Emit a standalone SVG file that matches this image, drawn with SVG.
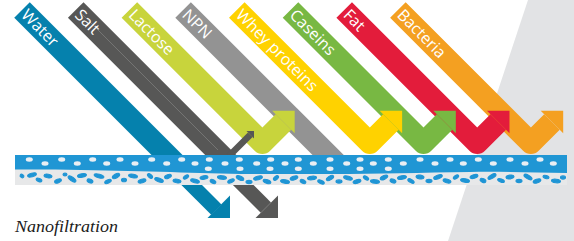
<svg xmlns="http://www.w3.org/2000/svg" width="574" height="241" viewBox="0 0 574 241">
<style>
.shaft{fill:none;stroke-linecap:butt;stroke-linejoin:round}
.lbl{font-family:"Open Sans","DejaVu Sans",sans-serif;font-size:16px;fill:#ffffff}
.dot{fill:#e9eef3}
.blob{fill:#1f95d5;stroke:#1f95d5;stroke-width:1.1}
</style>
<rect width="574" height="241" fill="#ffffff"/>
<polygon points="528,0 574,0 574,241 448,241" fill="#e2e3e5"/>

<g id="connectors">
<g id="bacteria">
<path class="shaft" d="M397.9,10 L530.9,143 L551.95,121.95" stroke="#f4a021" stroke-width="22"/>
<polygon points="563.2,110.7 540.7,110.7 563.2,133.2" fill="#f4a021"/>
<text class="lbl" transform="translate(397.9,10) rotate(45)" x="3" y="5.5">Bacteria</text>
</g>
<g id="fat">
<path class="shaft" d="M344.2,10 L477.2,143 L498.25,121.95" stroke="#e31c3b" stroke-width="22"/>
<polygon points="509.5,110.7 487,110.7 509.5,133.2" fill="#e31c3b"/>
<text class="lbl" transform="translate(344.2,10) rotate(45)" x="3" y="5.5">Fat</text>
</g>
<g id="caseins">
<path class="shaft" d="M290.5,10 L423.5,143 L444.55,121.95" stroke="#78b843" stroke-width="22"/>
<polygon points="455.8,110.7 433.3,110.7 455.8,133.2" fill="#78b843"/>
<text class="lbl" transform="translate(290.5,10) rotate(45)" x="3" y="5.5">Caseins</text>
</g>
<g id="whey">
<path class="shaft" d="M236.8,10 L369.8,143 L390.85,121.95" stroke="#ffd200" stroke-width="22"/>
<polygon points="402.1,110.7 379.6,110.7 402.1,133.2" fill="#ffd200"/>
<text class="lbl" transform="translate(236.8,10) rotate(45)" x="3" y="5.5">Whey proteins</text>
</g>
<g id="npn">
<path class="shaft" d="M183.1,10 L340,166.9" stroke="#939393" stroke-width="22"/>
<text class="lbl" transform="translate(183.1,10) rotate(45)" x="3" y="5.5">NPN</text>
</g>
<g id="lactose">
<path class="shaft" d="M129.4,10 L262.4,143 L283.45,121.95" stroke="#c8d43c" stroke-width="22"/>
<polygon points="294.7,110.7 272.2,110.7 294.7,133.2" fill="#c8d43c"/>
<text class="lbl" transform="translate(129.4,10) rotate(45)" x="3" y="5.5">Lactose</text>
</g>
<g id="salt">
<path class="shaft" d="M75.7,10 L238.7,173" stroke="#575756" stroke-width="22"/>
<path class="shaft" d="M228.3,170 L265.9,207.6" stroke="#575756" stroke-width="14.5"/>
<polygon points="278,218 255.5,218 278,195.5" fill="#575756"/>
<path class="shaft" d="M229,156 L250.25,134.75" stroke="#575756" stroke-width="6.5"/>
<polygon points="254,131 246.5,131 254,138.5" fill="#575756"/>
<path d="M80,12 L218,150" stroke="#8a8a8a" stroke-width="0.6" fill="none"/>
<text class="lbl" transform="translate(75.7,10) rotate(45)" x="3" y="5.5">Salt</text>
</g>
<g id="water">
<path class="shaft" d="M22,10 L185,173" stroke="#0581ad" stroke-width="22"/>
<path class="shaft" d="M176.7,170 L216.35,209.65" stroke="#0581ad" stroke-width="14.5"/>
<polygon points="230,218 207.5,218 230,195.5" fill="#0581ad"/>
<text class="lbl" transform="translate(22,10) rotate(45)" x="3" y="5.5">Water</text>
</g>
</g>

<g id="membrane">
<rect x="15" y="155" width="552" height="30" fill="#e7e8e9"/>
<path d="M15,155 H567 V173 C530,172.5 500,171.5 470,172 C420,172.8 380,173.8 330,174 C280,174.2 240,174.3 200,173 C150,171.5 90,169.5 15,169.5 Z" fill="#2096d4"/>
<g>
<ellipse class="dot" cx="29.3" cy="159.5" rx="3.5" ry="2.2"/>
<ellipse class="dot" cx="61.7" cy="159.5" rx="3.5" ry="2.2"/>
<ellipse class="dot" cx="92.7" cy="159.5" rx="3.5" ry="2.2"/>
<ellipse class="dot" cx="120" cy="159.5" rx="3.5" ry="2.2"/>
<ellipse class="dot" cx="151.7" cy="159.5" rx="3.5" ry="2.2"/>
<ellipse class="dot" cx="181.7" cy="159.5" rx="3.5" ry="2.2"/>
<ellipse class="dot" cx="209.3" cy="159.5" rx="3.5" ry="2.2"/>
<ellipse class="dot" cx="239.3" cy="159.5" rx="3.5" ry="2.2"/>
<ellipse class="dot" cx="270.7" cy="159.5" rx="3.5" ry="2.2"/>
<ellipse class="dot" cx="298.3" cy="159.5" rx="3.5" ry="2.2"/>
<ellipse class="dot" cx="330" cy="159.5" rx="3.5" ry="2.2"/>
<ellipse class="dot" cx="360" cy="159.5" rx="3.5" ry="2.2"/>
<ellipse class="dot" cx="388.3" cy="159.5" rx="3.5" ry="2.2"/>
<ellipse class="dot" cx="420" cy="159.5" rx="3.5" ry="2.2"/>
<ellipse class="dot" cx="450" cy="159.5" rx="3.5" ry="2.2"/>
<ellipse class="dot" cx="478.3" cy="159.5" rx="3.5" ry="2.2"/>
<ellipse class="dot" cx="510" cy="159.5" rx="3.5" ry="2.2"/>
<ellipse class="dot" cx="540" cy="159.5" rx="3.5" ry="2.2"/>
<ellipse class="dot" cx="45" cy="163.5" rx="3.5" ry="2.2"/>
<ellipse class="dot" cx="77.3" cy="163.5" rx="3.5" ry="2.2"/>
<ellipse class="dot" cx="106.7" cy="163.5" rx="3.5" ry="2.2"/>
<ellipse class="dot" cx="135" cy="163.5" rx="3.5" ry="2.2"/>
<ellipse class="dot" cx="166.7" cy="163.5" rx="3.5" ry="2.2"/>
<ellipse class="dot" cx="195" cy="163.5" rx="3.5" ry="2.2"/>
<ellipse class="dot" cx="225" cy="163.5" rx="3.5" ry="2.2"/>
<ellipse class="dot" cx="256.7" cy="163.5" rx="3.5" ry="2.2"/>
<ellipse class="dot" cx="285" cy="163.5" rx="3.5" ry="2.2"/>
<ellipse class="dot" cx="313.3" cy="163.5" rx="3.5" ry="2.2"/>
<ellipse class="dot" cx="346.7" cy="163.5" rx="3.5" ry="2.2"/>
<ellipse class="dot" cx="373.3" cy="163.5" rx="3.5" ry="2.2"/>
<ellipse class="dot" cx="403.3" cy="163.5" rx="3.5" ry="2.2"/>
<ellipse class="dot" cx="435" cy="163.5" rx="3.5" ry="2.2"/>
<ellipse class="dot" cx="463.3" cy="163.5" rx="3.5" ry="2.2"/>
<ellipse class="dot" cx="493.3" cy="163.5" rx="3.5" ry="2.2"/>
<ellipse class="dot" cx="525" cy="163.5" rx="3.5" ry="2.2"/>
<ellipse class="dot" cx="553.3" cy="163.5" rx="3.5" ry="2.2"/>
<ellipse class="dot" cx="208.3" cy="168.8" rx="3.5" ry="2.2"/>
<ellipse class="dot" cx="240" cy="168.8" rx="3.5" ry="2.2"/>
<ellipse class="dot" cx="270" cy="168.8" rx="3.5" ry="2.2"/>
<ellipse class="dot" cx="298.3" cy="168.8" rx="3.5" ry="2.2"/>
<ellipse class="dot" cx="330" cy="168.8" rx="3.5" ry="2.2"/>
<ellipse class="dot" cx="360" cy="168.8" rx="3.5" ry="2.2"/>
<ellipse class="dot" cx="388.3" cy="168.8" rx="3.5" ry="2.2"/>
</g>
<g>
<ellipse class="blob" cx="22" cy="176" rx="2" ry="1.6" transform="rotate(30 22 176)"/>
<ellipse class="blob" cx="32" cy="175" rx="4.5" ry="1.8" transform="rotate(-15 32 175)"/>
<ellipse class="blob" cx="39" cy="180" rx="3" ry="1.6" transform="rotate(25 39 180)"/>
<ellipse class="blob" cx="48" cy="176" rx="4" ry="1.8" transform="rotate(10 48 176)"/>
<ellipse class="blob" cx="58" cy="181" rx="3.5" ry="1.8" transform="rotate(-20 58 181)"/>
<ellipse class="blob" cx="65" cy="174.5" rx="2" ry="1.5"/>
<ellipse class="blob" cx="72" cy="179" rx="4.5" ry="1.9" transform="rotate(35 72 179)"/>
<ellipse class="blob" cx="82" cy="175.5" rx="4.5" ry="1.8" transform="rotate(-10 82 175.5)"/>
<ellipse class="blob" cx="90" cy="181" rx="3" ry="1.8" transform="rotate(20 90 181)"/>
<ellipse class="blob" cx="99" cy="176" rx="5" ry="1.8" transform="rotate(15 99 176)"/>
<ellipse class="blob" cx="108" cy="181.5" rx="3.5" ry="1.6" transform="rotate(-25 108 181.5)"/>
<ellipse class="blob" cx="116" cy="176" rx="4" ry="2" transform="rotate(-30 116 176)"/>
<ellipse class="blob" cx="124" cy="180" rx="2.5" ry="1.8"/>
<ellipse class="blob" cx="133" cy="176" rx="4.5" ry="1.8" transform="rotate(10 133 176)"/>
<ellipse class="blob" cx="142" cy="181" rx="4" ry="1.8" transform="rotate(-15 142 181)"/>
<ellipse class="blob" cx="150" cy="176" rx="3" ry="1.6" transform="rotate(40 150 176)"/>
<ellipse class="blob" cx="159" cy="180" rx="4.5" ry="1.8" transform="rotate(20 159 180)"/>
<ellipse class="blob" cx="168" cy="176.5" rx="3.5" ry="1.8" transform="rotate(-20 168 176.5)"/>
<ellipse class="blob" cx="177" cy="181" rx="4" ry="1.8" transform="rotate(10 177 181)"/>
<ellipse class="blob" cx="186" cy="177" rx="3" ry="1.6" transform="rotate(-35 186 177)"/>
<ellipse class="blob" cx="195" cy="181" rx="4.5" ry="1.8" transform="rotate(15 195 181)"/>
<ellipse class="blob" cx="204" cy="177.5" rx="4" ry="1.8" transform="rotate(-10 204 177.5)"/>
<ellipse class="blob" cx="213" cy="181.5" rx="3" ry="1.8" transform="rotate(30 213 181.5)"/>
<ellipse class="blob" cx="222" cy="177.5" rx="4.5" ry="1.8" transform="rotate(5 222 177.5)"/>
<ellipse class="blob" cx="231" cy="181" rx="3.5" ry="1.6" transform="rotate(-25 231 181)"/>
<ellipse class="blob" cx="240" cy="178" rx="4" ry="1.9" transform="rotate(25 240 178)"/>
<ellipse class="blob" cx="249" cy="182" rx="3" ry="1.6"/>
<ellipse class="blob" cx="258" cy="178" rx="4.5" ry="1.8" transform="rotate(-15 258 178)"/>
<ellipse class="blob" cx="267" cy="181.5" rx="4" ry="1.8" transform="rotate(20 267 181.5)"/>
<ellipse class="blob" cx="276" cy="178" rx="3" ry="1.6" transform="rotate(-40 276 178)"/>
<ellipse class="blob" cx="285" cy="181.5" rx="4.5" ry="1.8" transform="rotate(10 285 181.5)"/>
<ellipse class="blob" cx="294" cy="178" rx="4" ry="1.8" transform="rotate(-20 294 178)"/>
<ellipse class="blob" cx="303" cy="181.5" rx="3" ry="1.8" transform="rotate(30 303 181.5)"/>
<ellipse class="blob" cx="312" cy="178" rx="4.5" ry="1.8" transform="rotate(-5 312 178)"/>
<ellipse class="blob" cx="321" cy="182" rx="3.5" ry="1.6" transform="rotate(25 321 182)"/>
<ellipse class="blob" cx="330" cy="178" rx="4" ry="1.9" transform="rotate(-30 330 178)"/>
<ellipse class="blob" cx="339" cy="181.5" rx="3" ry="1.6"/>
<ellipse class="blob" cx="348" cy="178" rx="4.5" ry="1.8" transform="rotate(15 348 178)"/>
<ellipse class="blob" cx="357" cy="181.5" rx="4" ry="1.8" transform="rotate(-15 357 181.5)"/>
<ellipse class="blob" cx="366" cy="178" rx="3" ry="1.6" transform="rotate(35 366 178)"/>
<ellipse class="blob" cx="375" cy="181.5" rx="4.5" ry="1.8" transform="rotate(5 375 181.5)"/>
<ellipse class="blob" cx="384" cy="177.5" rx="4" ry="1.8" transform="rotate(-25 384 177.5)"/>
<ellipse class="blob" cx="393" cy="181" rx="3" ry="1.8" transform="rotate(20 393 181)"/>
<ellipse class="blob" cx="402" cy="177.5" rx="4.5" ry="1.8" transform="rotate(-10 402 177.5)"/>
<ellipse class="blob" cx="411" cy="181" rx="3.5" ry="1.6" transform="rotate(30 411 181)"/>
<ellipse class="blob" cx="420" cy="177" rx="4" ry="1.9" transform="rotate(10 420 177)"/>
<ellipse class="blob" cx="429" cy="181" rx="3" ry="1.6"/>
<ellipse class="blob" cx="438" cy="177" rx="4.5" ry="1.8" transform="rotate(-20 438 177)"/>
<ellipse class="blob" cx="447" cy="181" rx="4" ry="1.8" transform="rotate(15 447 181)"/>
<ellipse class="blob" cx="456" cy="177" rx="3" ry="1.6" transform="rotate(-35 456 177)"/>
<ellipse class="blob" cx="465" cy="180.5" rx="4.5" ry="1.8" transform="rotate(10 465 180.5)"/>
<ellipse class="blob" cx="474" cy="176.5" rx="4" ry="1.8" transform="rotate(-15 474 176.5)"/>
<ellipse class="blob" cx="483" cy="180.5" rx="3" ry="1.8" transform="rotate(25 483 180.5)"/>
<ellipse class="blob" cx="492" cy="176.5" rx="4.5" ry="1.8" transform="rotate(-30 492 176.5)"/>
<ellipse class="blob" cx="501" cy="180.5" rx="3.5" ry="1.6" transform="rotate(20 501 180.5)"/>
<ellipse class="blob" cx="510" cy="177" rx="4" ry="1.9" transform="rotate(-10 510 177)"/>
<ellipse class="blob" cx="519" cy="181" rx="3" ry="1.6"/>
<ellipse class="blob" cx="528" cy="177" rx="4.5" ry="1.8" transform="rotate(30 528 177)"/>
<ellipse class="blob" cx="537" cy="181" rx="4" ry="1.8" transform="rotate(-20 537 181)"/>
<ellipse class="blob" cx="546" cy="177" rx="3" ry="1.6" transform="rotate(15 546 177)"/>
<ellipse class="blob" cx="556" cy="181" rx="4.5" ry="1.8" transform="rotate(5 556 181)"/>
<ellipse class="blob" cx="563" cy="177.5" rx="2.5" ry="1.6"/>
</g>
</g>

<text x="15" y="232.3" font-family="'Liberation Serif',serif" font-style="italic" font-size="17" fill="#1a1a1a" textLength="103" lengthAdjust="spacingAndGlyphs">Nanofiltration</text>
</svg>
